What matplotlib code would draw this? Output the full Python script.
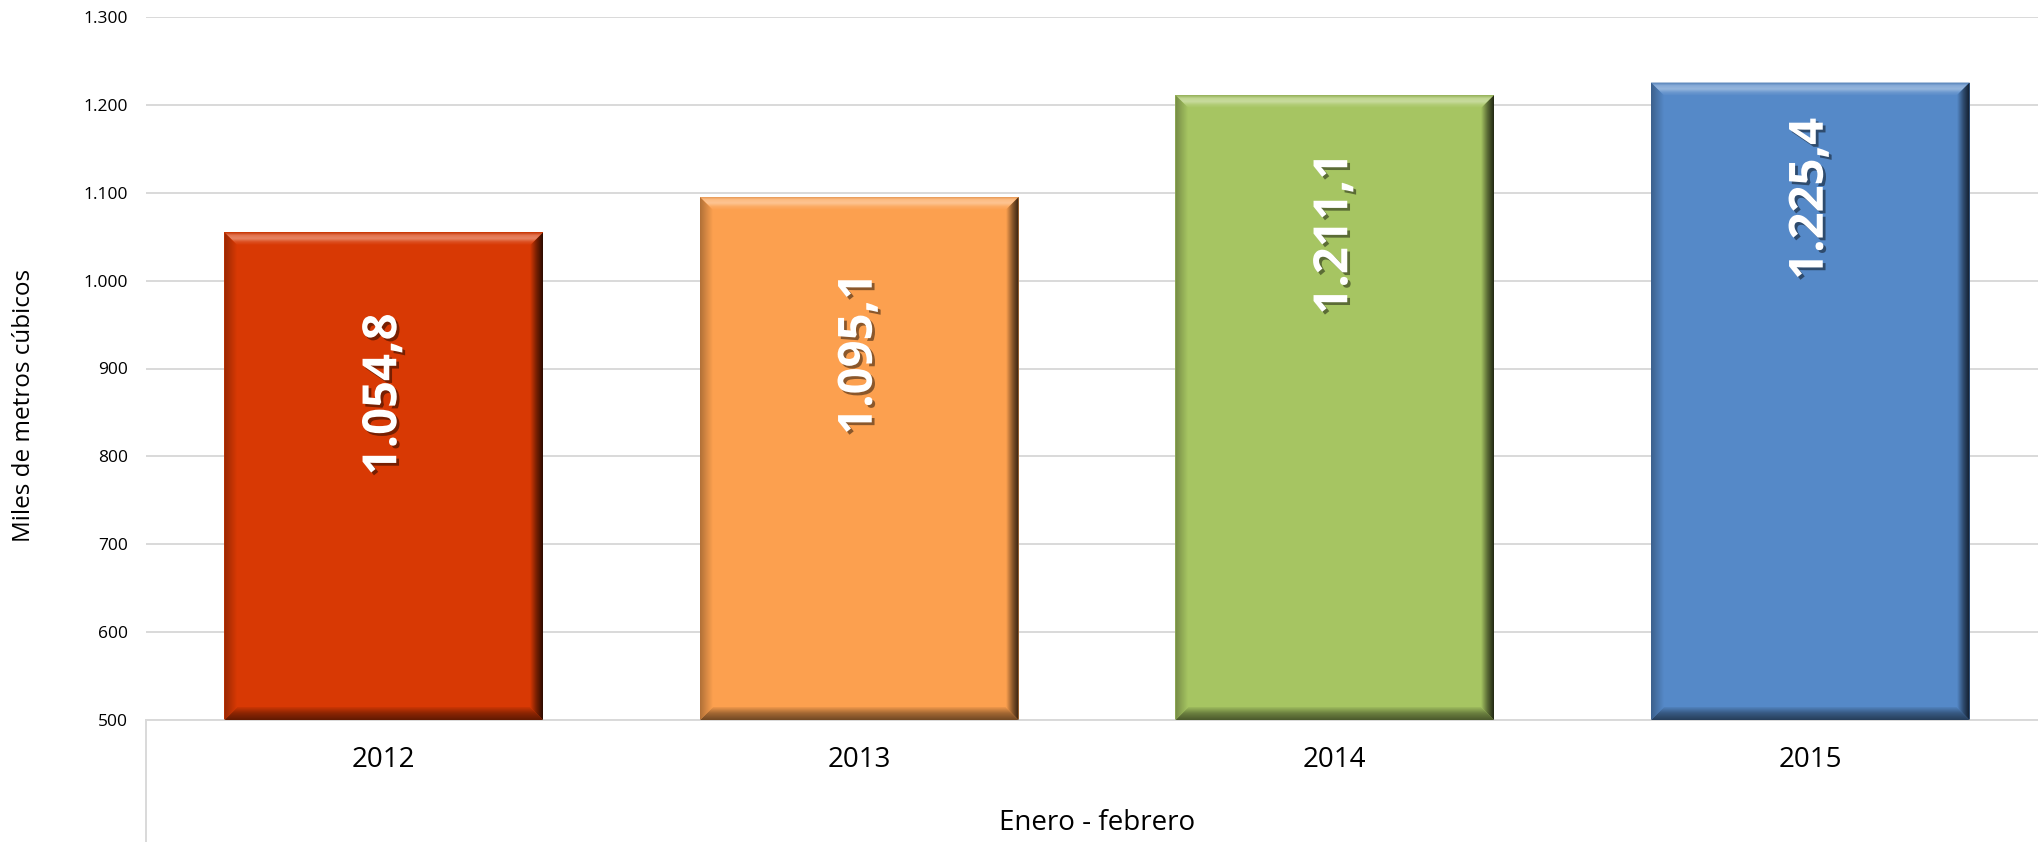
# -*- coding: utf-8 -*-
"""
Consumo enero-febrero (miles de metros cubicos), barras con bisel estilo Excel.
"""

import numpy as np
import matplotlib.pyplot as plt
import matplotlib.patheffects as pe
from matplotlib.patches import Polygon
from matplotlib.lines import Line2D
from matplotlib.colors import to_rgb

# ============================================================
#  Datos
# ============================================================

anios     = ["2012", "2013", "2014", "2015"]
valores   = [1054.8, 1095.1, 1211.1, 1225.4]
etiquetas = ["1.054,8", "1.095,1", "1.211,1", "1.225,4"]
colores   = ["#D83904", "#FCA04F", "#A6C562", "#5589C8"]

yticks       = [500, 600, 700, 800, 900, 1000, 1100, 1200, 1300]
ytick_labels = ["500", "600", "700", "800", "900", "1.000", "1.100", "1.200", "1.300"]

# caida de cada etiqueta bajo el tope de su barra (unidades del eje y)
caida = [92, 86, 65, 40]

# ============================================================
#  Estilo general
# ============================================================

plt.rcParams.update({
    "font.family": ["Open Sans", "DejaVu Sans"],
    "font.size": 12,
})

W, H = 2038, 842
fig = plt.figure(figsize=(W / 100, H / 100), dpi=100)

# area de trazado en pixeles (medida sobre la referencia)
x_izq, x_der = 146, 2048
y_sup, y_inf = 17, 720
ax = fig.add_axes([x_izq / W, 1 - y_inf / H, (x_der - x_izq) / W, (y_inf - y_sup) / H])

ymin, ymax = 500, 1300
ax.set_xlim(-0.5, 3.5)
ax.set_ylim(ymin, ymax)

px_x = (x_der - x_izq) / 4.0          # pixeles por unidad x
px_y = (y_inf - y_sup) / (ymax - ymin)  # pixeles por unidad y


def mezclar(c, otro, f):
    c = np.array(to_rgb(c))
    return tuple(c + (np.array(otro) - c) * f)


def degradado(ax, verts, paradas, vertical=True):
    """Rellena el poligono con un degradado lineal (paradas: lista de colores)."""
    poly = Polygon(verts, closed=True, fill=False, edgecolor="none",
                   transform=ax.transData)
    ax.add_patch(poly)
    xs = [v[0] for v in verts]
    ys = [v[1] for v in verts]
    n = 64
    t = np.linspace(0, 1, n)
    pos = np.linspace(0, 1, len(paradas))
    cols = np.array([to_rgb(p) for p in paradas])
    grad = np.stack([np.interp(t, pos, cols[:, k]) for k in range(3)], axis=-1)
    img = grad[:, None, :] if vertical else grad[None, :, :]
    im = ax.imshow(img, extent=(min(xs), max(xs), min(ys), max(ys)),
                   origin="lower", aspect="auto", interpolation="bilinear",
                   zorder=3)
    im.set_clip_path(poly)


# ============================================================
#  Barras
# ============================================================

ancho = 0.67
ax.bar(range(len(valores)), valores, width=ancho, bottom=0, color=colores,
       zorder=2, linewidth=0)

bx = 13 / px_x
by = 13 / px_y
blanco, negro = (1, 1, 1), (0, 0, 0)
for i, (v, c) in enumerate(zip(valores, colores)):
    x0, x1 = i - ancho / 2, i + ancho / 2
    y0, y1 = ymin, v
    # bisel superior (brillo), de abajo hacia arriba
    degradado(ax, [(x0, y1), (x1, y1), (x1 - bx, y1 - by), (x0 + bx, y1 - by)],
              [c, mezclar(c, blanco, 0.12), mezclar(c, blanco, 0.38),
               mezclar(c, blanco, 0.3), mezclar(c, negro, 0.12)],
              vertical=True)
    # bisel inferior (sombra)
    degradado(ax, [(x0, y0), (x0 + bx, y0 + by), (x1 - bx, y0 + by), (x1, y0)],
              [mezclar(c, negro, 0.55), mezclar(c, negro, 0.35), c], vertical=True)
    # borde derecho (oscuro)
    degradado(ax, [(x1, y1), (x1, y0), (x1 - bx, y0 + by), (x1 - bx, y1 - by)],
              [c, mezclar(c, negro, 0.45), mezclar(c, negro, 0.8)], vertical=False)
    # borde izquierdo (leve)
    degradado(ax, [(x0, y1), (x0 + bx, y1 - by), (x0 + bx, y0 + by), (x0, y0)],
              [mezclar(c, negro, 0.3), c], vertical=False)

    ax.text(i, v - caida[i], etiquetas[i], rotation=90, ha="center", va="top",
            color="white", fontsize=34, fontweight="bold", zorder=5,
            path_effects=[pe.withSimplePatchShadow(offset=(2, -2),
                                                   shadow_rgbFace="black",
                                                   alpha=0.45)])

ax.set_xlim(-0.5, 3.5)
ax.set_ylim(ymin, ymax)

# ============================================================
#  Ejes
# ============================================================

ax.set_yticks(yticks)
ax.set_yticklabels(ytick_labels, fontsize=12.5)
ax.set_xticks(range(len(anios)))
ax.set_xticklabels(anios, fontsize=20)
ax.tick_params(axis="y", length=0, pad=13)
ax.tick_params(axis="x", length=0, pad=19)

ax.grid(axis="y", color="#D9D9D9", linewidth=1.4, zorder=0)
ax.set_axisbelow(True)
for s in ["top", "right", "left"]:
    ax.spines[s].set_visible(False)
ax.spines["bottom"].set_color("#D9D9D9")
ax.spines["bottom"].set_linewidth(1.4)

# linea vertical del eje de categorias
fig.add_artist(Line2D([x_izq / W, x_izq / W], [0, 1 - y_inf / H],
                      transform=fig.transFigure, color="#D9D9D9", linewidth=1.4))

fig.text(1097 / W, 1 - 823 / H, "Enero - febrero", ha="center", va="center",
         fontsize=20)
fig.text(24 / W, 1 - 405 / H, "Miles de metros cúbicos", rotation=90,
         ha="center", va="center", fontsize=17.5)

fig.savefig("out.png", dpi=100)
